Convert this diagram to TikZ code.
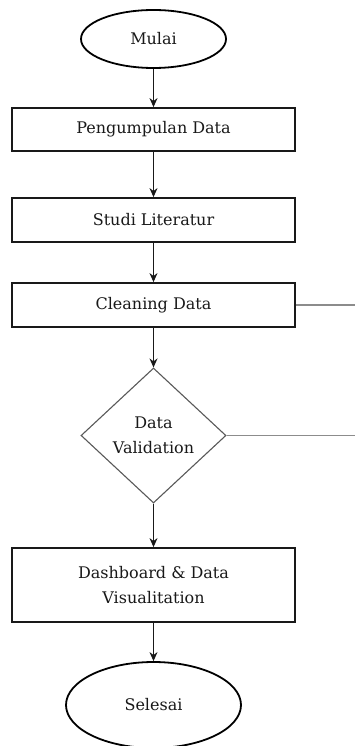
\documentclass[tikz,border=0pt]{standalone}
\usepackage{fontspec}
\setmainfont{DejaVu Serif}
\usetikzlibrary{shapes.geometric,arrows.meta}
\begin{document}
\begin{tikzpicture}[x=1pt,y=-1pt,
  every node/.style={font=\fontsize{16}{25}\selectfont, text=black!90},
  terminal/.style={ellipse, draw=black, line width=1.8pt, inner sep=0pt},
  process/.style={rectangle, draw=black!90, line width=1.8pt, inner sep=0pt,
    minimum width=283pt, align=center},
  decision/.style={diamond, draw=black!65, line width=1.1pt, inner sep=0pt,
    minimum width=145pt, minimum height=135pt, align=center},
  flow/.style={draw=black!90, line width=1.1pt, -{Stealth[length=9pt,width=8pt]}},
  branch/.style={draw=black!45, line width=1.6pt}]
\useasboundingbox (0,0) rectangle (355,746);
\fill[white] (0,0) rectangle (355,746);

\node[terminal, minimum width=145pt, minimum height=58pt] (start) at (153.5,39) {Mulai};
\node[process, minimum height=43pt] (collect) at (153.5,129.5) {Pengumpulan Data};
\node[process, minimum height=44pt] (study) at (153.5,220) {Studi Literatur};
\node[process, minimum height=44pt] (clean) at (153.5,305) {Cleaning Data};
\node[decision] (valid) at (153.5,435.5) {Data\\Validation};
\node[process, minimum height=74pt] (dash) at (153.5,585) {Dashboard \& Data\\Visualitation};
\node[terminal, minimum width=175pt, minimum height=86pt] (finish) at (153.5,705) {Selesai};

\coordinate (cleanout) at (355,305);
\coordinate (validout) at (355,435.5);

\draw[flow] (start) -- (collect);
\draw[flow] (collect) -- (study);
\draw[flow] (study) -- (clean);
\draw[flow] (clean) -- (valid);
\draw[flow] (valid) -- (dash);
\draw[flow] (dash) -- (finish);

\draw[branch] (clean.east) -- (cleanout);
\draw[branch] (valid.east) -- (validout);
\end{tikzpicture}
\end{document}
